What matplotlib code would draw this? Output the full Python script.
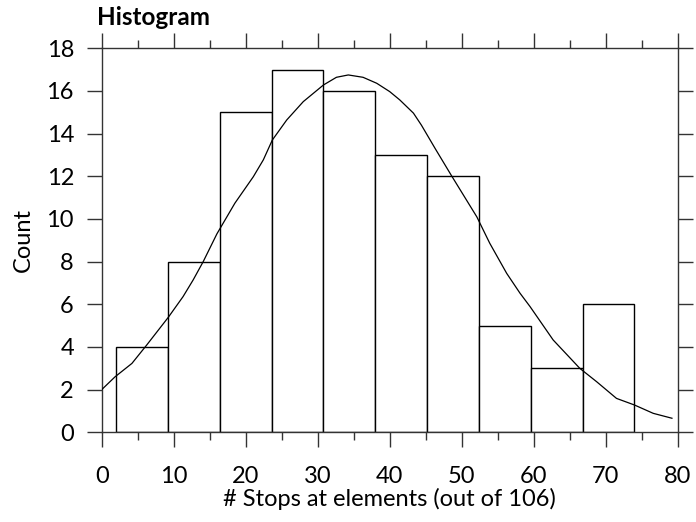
import numpy as np
import matplotlib.pyplot as plt
from matplotlib.ticker import MultipleLocator

# histogram bins and counts
bin_edges = [2.0, 9.2, 16.4, 23.6, 30.8, 38.0, 45.2, 52.4, 59.6, 66.8, 74.0]
counts = [4, 8, 15, 17, 16, 13, 12, 5, 3, 6]

# density curve, scaled to counts
curve_x = [0, 1.85, 4.2, 6.25, 9.25, 11.3, 12.7, 14.1, 16.0, 18.5, 21.06, 22.45,
           23.7, 25.7, 28.0, 30.8, 32.6, 34.25, 36.3, 38.2, 40.0, 41.4, 43.3,
           44.4, 46.3, 48.6, 52.1, 53.9, 56.25, 58.1, 59.5, 62.7, 66.4, 68.75,
           71.5, 74.0, 76.6, 79.2]
curve_y = [2.0, 2.6, 3.23, 4.09, 5.39, 6.36, 7.14, 8.0, 9.3, 10.74, 11.98, 12.77,
           13.7, 14.64, 15.5, 16.28, 16.64, 16.75, 16.64, 16.36, 15.97, 15.58, 14.96,
           14.4, 13.31, 12.02, 10.1, 8.86, 7.45, 6.52, 5.89, 4.33, 3.0, 2.37,
           1.59, 1.28, 0.89, 0.66]

plt.rcParams['font.family'] = ['Lato', 'DejaVu Sans']

fig = plt.figure(figsize=(6.96, 5.22), dpi=100)
ax = fig.add_axes([0.1461, 0.1718, 0.8276, 0.7357])

edges = np.array(bin_edges)
ax.bar(edges[:-1], counts, width=np.diff(edges), align='edge',
       facecolor='white', edgecolor='black', linewidth=1.0, zorder=2)
ax.plot(curve_x, curve_y, color='black', linewidth=0.9, zorder=3)

ax.set_xlim(0, 80)
ax.set_ylim(0, 18)
ax.xaxis.set_major_locator(MultipleLocator(10))
ax.xaxis.set_minor_locator(MultipleLocator(5))
ax.yaxis.set_major_locator(MultipleLocator(2))

ax.tick_params(axis='both', which='major', direction='out', length=11, width=1,
               labelsize=17, top=True, right=True, color='#333333')
ax.tick_params(axis='x', which='minor', direction='out', length=5.5, width=1,
               top=True, color='#333333')
ax.tick_params(axis='x', pad=13)
ax.tick_params(axis='y', pad=9)
for s in ax.spines.values():
    s.set_linewidth(1.0)
    s.set_color('#333333')

ax.set_xlabel('# Stops at elements (out of 106)', fontsize=17, labelpad=1)
ax.set_ylabel('Count', fontsize=17, labelpad=9)
fig.text(0.139, 0.952, 'Histogram', fontsize=17.5, fontweight='bold',
         ha='left', va='baseline')

fig.savefig('out.png', dpi=100)
